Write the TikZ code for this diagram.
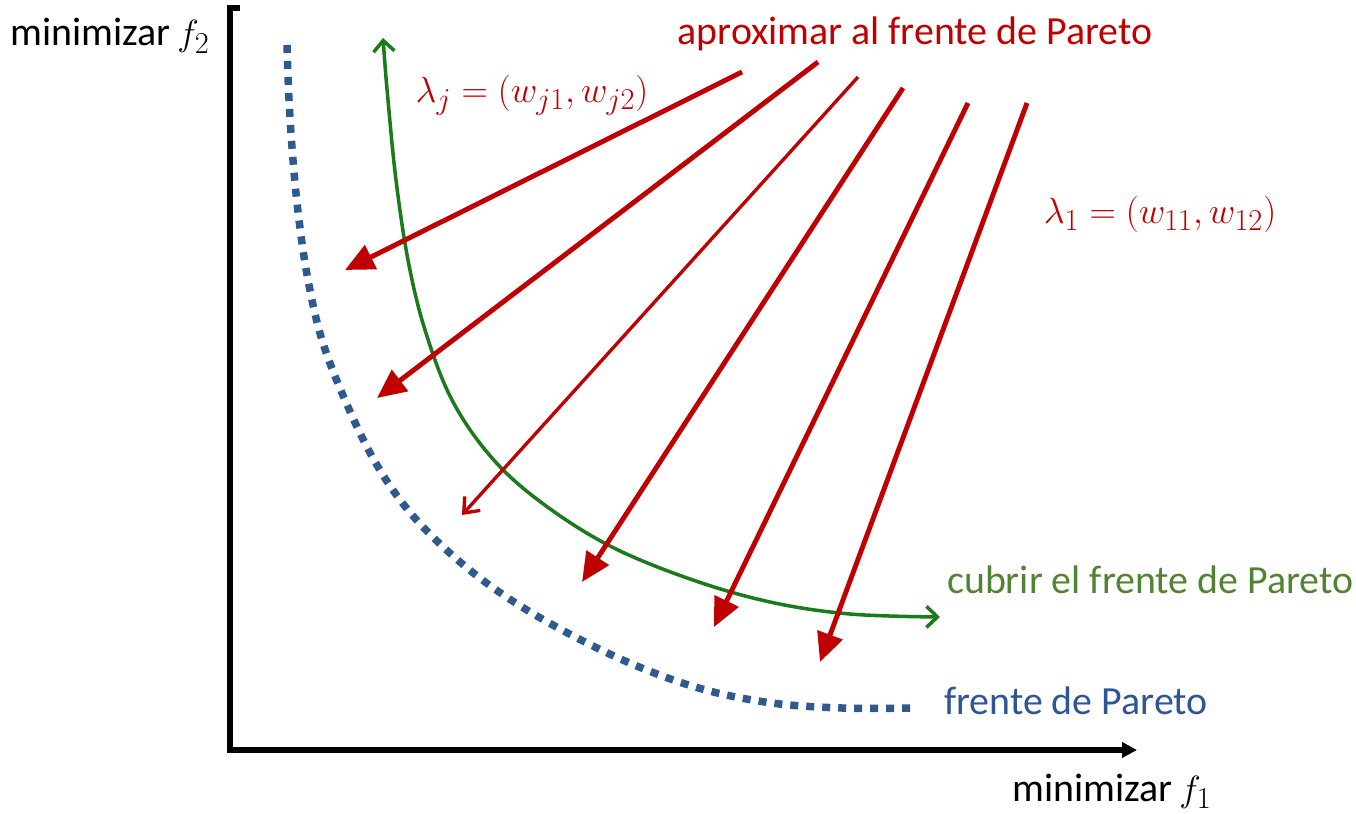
\documentclass[tikz,border=0pt]{standalone}
\usepackage{amsmath}
\usepackage{xcolor}
\usepackage{fontspec}
\setmainfont{Carlito}
\usetikzlibrary{arrows.meta}
\definecolor{paretoBlue}{HTML}{2F5A8E}
\definecolor{paretoText}{HTML}{2F5597}
\definecolor{coverGreen}{HTML}{1B7A1B}
\definecolor{coverText}{HTML}{548235}
\definecolor{approxRed}{HTML}{C00000}

\begin{document}
\begin{tikzpicture}[x=0.02cm, y=-0.02cm, font=\fontsize{22.7}{27}\selectfont]
	\useasboundingbox (0,0) rectangle (1356,814);
	\tikzset{
		axisline/.style={line width=3.2pt, black, -{Triangle[length=0.3cm, width=0.3cm]}},
		paretoline/.style={line width=0.15cm, paretoBlue, dash pattern=on 0.16cm off 0.16cm},
		coverline/.style={line width=2pt, coverGreen, {Straight Barb[length=0.22cm, width=0.42cm]}-{Straight Barb[length=0.22cm, width=0.42cm]}},
		weightarrow/.style={line width=2.8pt, approxRed, -{Triangle[length=0.58cm, width=0.52cm]}},
		thinarrow/.style={line width=1.9pt, approxRed, -{Straight Barb[length=0.26cm, width=0.42cm]}}
	}
	
	% Ejes
	\coordinate (ycap) at (240,8);
	\coordinate (origin) at (230,750);
	\coordinate (xend) at (1137,750);
	\draw[axisline] (ycap) -| (origin) -- (xend);
	\node[anchor=base east, inner sep=0pt] (f2lbl) at (210,46) {minimizar\,$f_2$};
	\node[anchor=base east, inner sep=0pt] (f1lbl) at (1212,801) {minimizar\,$f_1$};
	
	% Frente de Pareto
	\draw[paretoline] plot[smooth, tension=0.6] coordinates {(287,45) (289,100) (293,160) (299,220) (308,280) (322,340) (345,400) (374,460) (408,510) (452,555) (502,594) (562,630) (632,664) (702,689) (772,703) (842,708) (914,708)};
	\node[anchor=base west, text=paretoText] (pflbl) at (938,714) {frente de Pareto};
	
	% Cubrir el frente
	\draw[coverline] plot[smooth, tension=0.6] coordinates {(383,38) (388,100) (396,180) (408,260) (425,330) (452,400) (492,458) (542,503) (610,546) (690,579) (770,602) (850,614) (940,617)};
	\node[anchor=base west, text=coverText] (cvlbl) at (941,593) {cubrir el frente de Pareto};
	
	% Vectores de pesos
	\foreach \i/\sx/\sy/\ex/\ey in {1/742/72/345/270, 2/818/62/377/398, 4/903/88/582/582, 5/968/103/714/627, 6/1027/103/820/662}{
		\coordinate (ws\i) at (\sx,\sy);
		\coordinate (we\i) at (\ex,\ey);
		\draw[weightarrow] (ws\i) -- (we\i);
	}
	\coordinate (ws3) at (858,77);
	\coordinate (we3) at (462,515);
	\draw[thinarrow] (ws3) -- (we3);
	
	\node[anchor=base, text=approxRed] (aplbl) at (915,45) {aproximar al frente de Pareto};
	\node[text=approxRed] (ljlbl) at (532,95) {$\lambda_j=(w_{j1},w_{j2})$};
	\node[text=approxRed] (l1lbl) at (1160,214) {$\lambda_1=(w_{11},w_{12})$};
\end{tikzpicture}
\end{document}
